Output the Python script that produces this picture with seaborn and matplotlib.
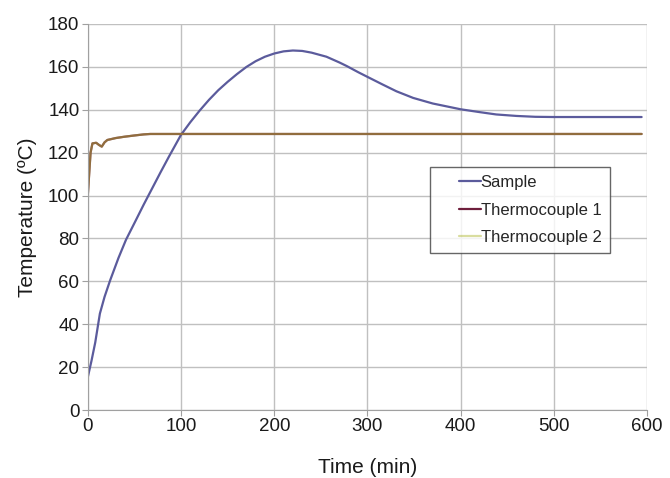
import matplotlib
matplotlib.use("Agg")
import pandas as pd
import matplotlib.pyplot as plt
import seaborn as sns
from matplotlib.legend_handler import HandlerLine2D

# Values
sample_time = [0, 4, 8, 13, 18, 24, 33, 41, 51, 60, 69, 78, 87, 100, 110, 120, 130, 140,
               150, 160, 170, 180, 190, 200, 210, 220, 230, 240, 256, 270, 278, 290, 300,
               316, 331, 349, 370, 400, 420, 438, 460, 480, 500, 550, 594]
sample_temp = [15.3, 23, 31.5, 45, 52.8, 60.5, 71, 79.4, 88, 95.8, 103.3, 110.8, 118.1,
               128.3, 134.2, 139.6, 144.6, 149.1, 153, 156.6, 159.9, 162.6, 164.7, 166.2,
               167.2, 167.6, 167.4, 166.6, 164.7, 162, 160.3, 157.5, 155.3, 151.8, 148.6,
               145.5, 142.9, 140.2, 138.9, 137.8, 137.1, 136.7, 136.6, 136.6, 136.6]

tc_time = [0, 3, 5, 9, 12, 15, 18, 21, 30, 39, 50, 60, 67, 80, 200, 400, 594]
tc1_temp = [100, 120, 124.3, 124.6, 123.6, 122.8, 124.8, 125.9, 126.8, 127.4, 128, 128.5,
            128.7, 128.7, 128.7, 128.7, 128.7]
tc2_temp = [100, 120, 124.3, 124.6, 123.6, 122.8, 124.8, 125.9, 126.8, 127.4, 128, 128.5,
            128.7, 128.7, 128.7, 128.7, 128.7]

sns.set_style("white")
plt.rcParams['font.family'] = ['Liberation Sans', 'DejaVu Sans']

df_s = pd.DataFrame({"time": sample_time, "temp": sample_temp})
df_1 = pd.DataFrame({"time": tc_time, "temp": tc1_temp})
df_2 = pd.DataFrame({"time": tc_time, "temp": tc2_temp})

fig = plt.figure(figsize=(6.7, 4.78), dpi=100)
ax = fig.add_axes([0.131, 0.142, 0.835, 0.808])

sns.lineplot(data=df_s, x="time", y="temp", ax=ax, color="#5b5b9c", linewidth=1.6, label="Sample")
sns.lineplot(data=df_1, x="time", y="temp", ax=ax, color="#6e1e3c", linewidth=1.6, label="Thermocouple 1")
sns.lineplot(data=df_2, x="time", y="temp", ax=ax, color="#b4bc40", alpha=0.5, linewidth=1.6,
             label="Thermocouple 2")

ax.set_xlim(0, 600)
ax.set_ylim(0, 180)
ax.set_xticks(range(0, 601, 100))
ax.set_yticks(range(0, 181, 20))
ax.grid(True, color="#c0c0c0", linewidth=1)
ax.set_axisbelow(True)
for side in ["top", "right"]:
    ax.spines[side].set_visible(False)
for side in ["left", "bottom"]:
    ax.spines[side].set_color("#a0a0a0")
ax.tick_params(axis="both", direction="out", length=4, color="#a0a0a0", labelsize=13.5,
               labelcolor="#1a1a1a", bottom=True, left=True, pad=2)
ax.set_xlabel("Time (min)", fontsize=15, color="#1a1a1a", labelpad=16)
ax.set_ylabel("Temperature (ºC)", fontsize=15, color="#1a1a1a", labelpad=8)

# handle drawn short, with a wide gap before it, like the original legend
handler = HandlerLine2D(xpad=1.25)
leg = ax.legend(loc="upper left", bbox_to_anchor=(0.611, 0.63), fontsize=12, frameon=True,
                fancybox=False, edgecolor="#404040", handlelength=2.56, handletextpad=0.0,
                borderpad=0.5, labelspacing=0.75, borderaxespad=0,
                handler_map={matplotlib.lines.Line2D: handler})
leg.get_frame().set_linewidth(1)

fig.savefig("out.png", dpi=100)
